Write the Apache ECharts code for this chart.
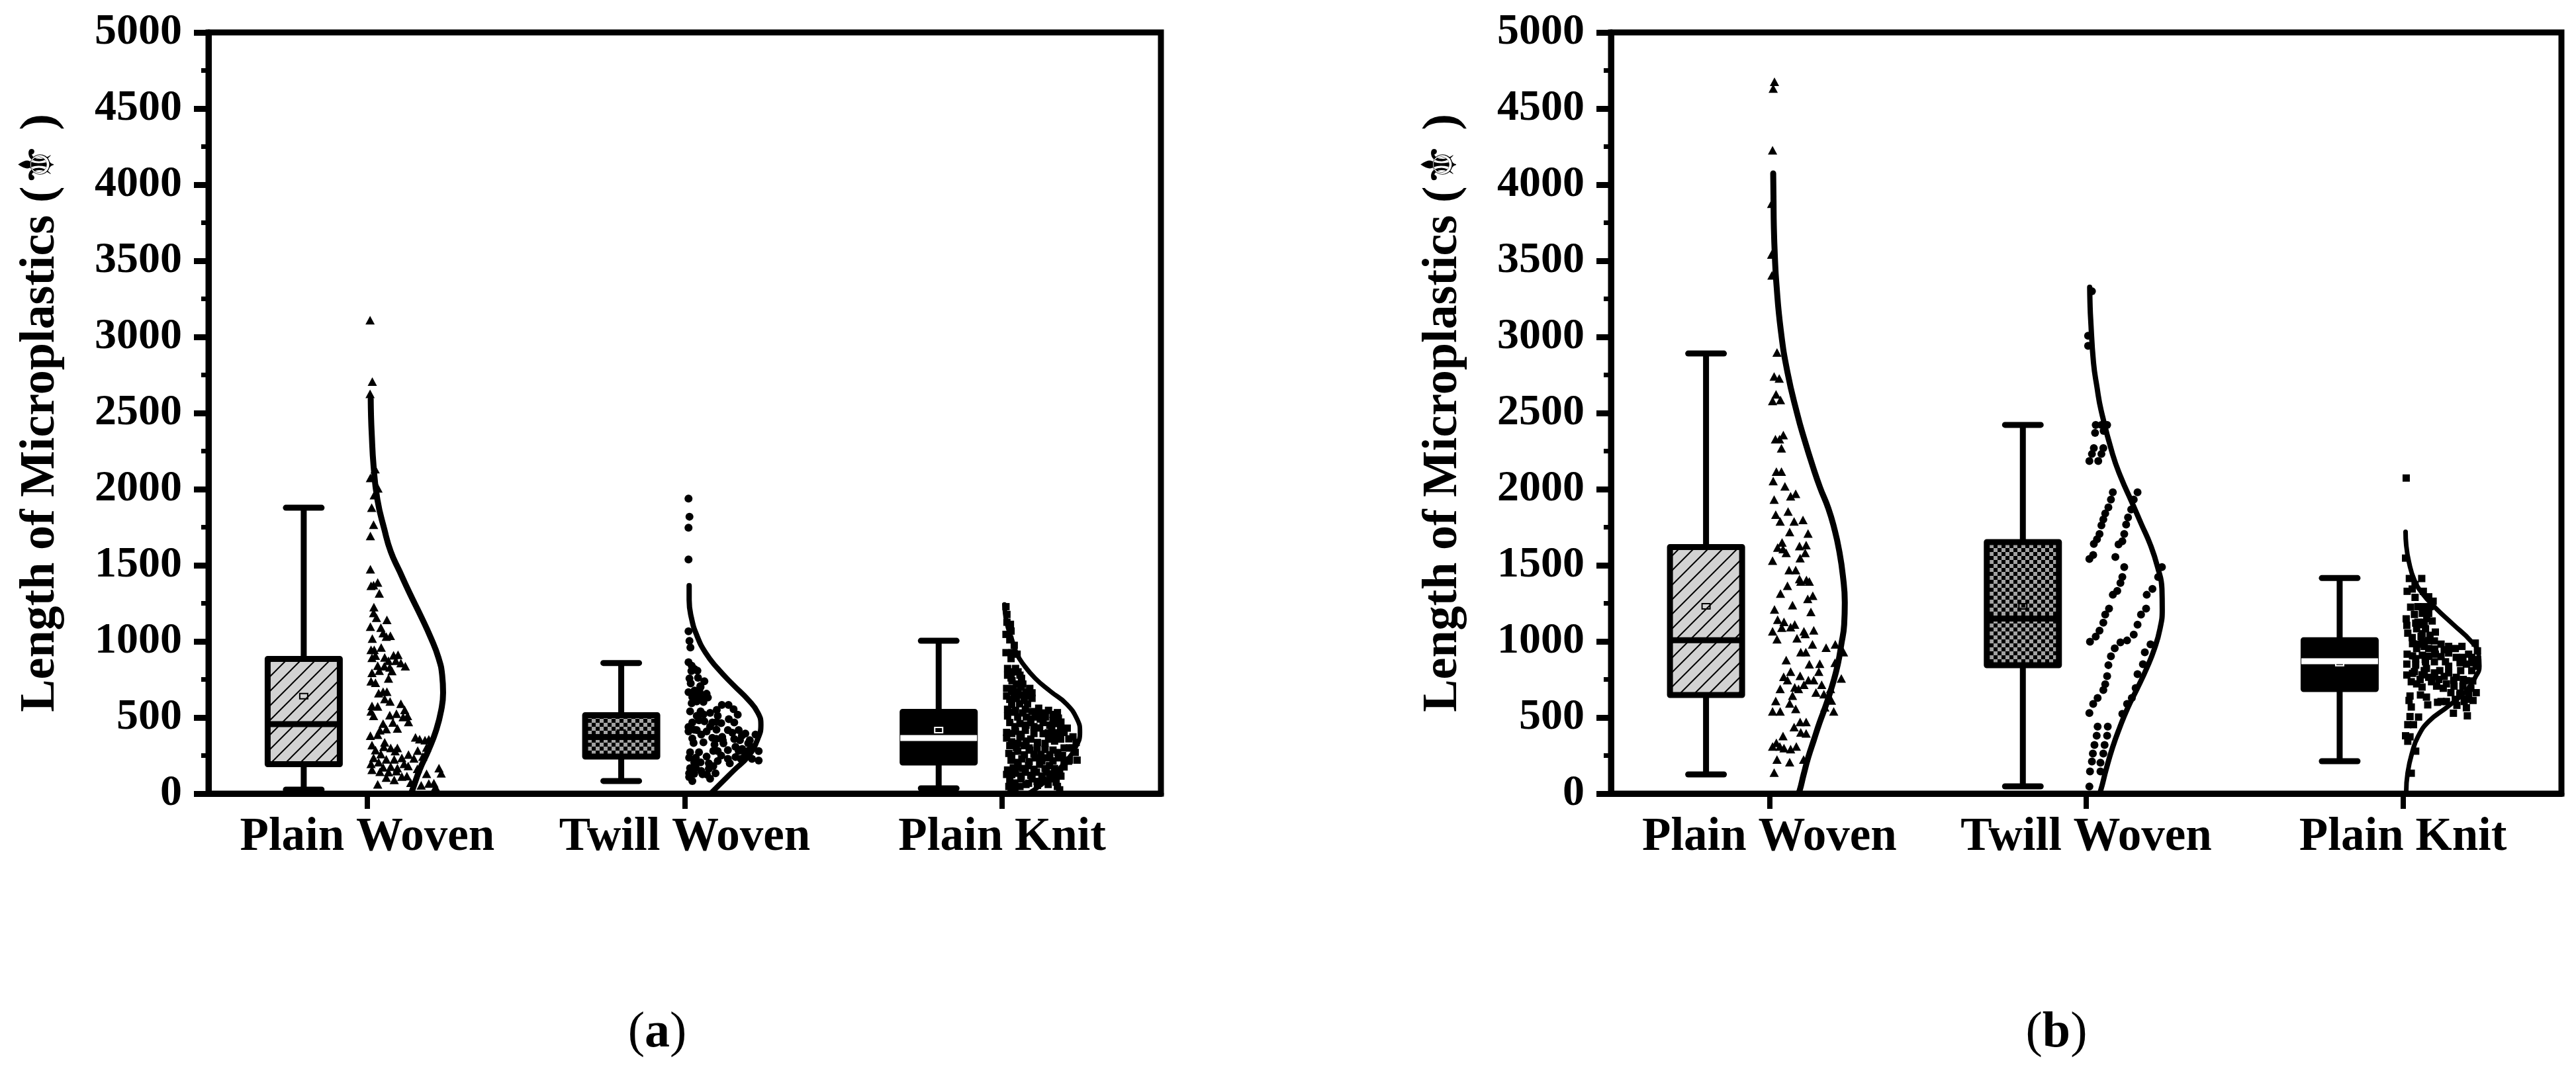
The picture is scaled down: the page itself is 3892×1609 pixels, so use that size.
<!DOCTYPE html>
<html>
<head>
<meta charset="utf-8">
<title>Length of Microplastics</title>
<script src="https://cdn.jsdelivr.net/npm/echarts@6/dist/echarts.min.js"></script>
<style>
html, body { margin: 0; padding: 0; background: #fff; }
#main { width: 3892px; height: 1609px; }
</style>
</head>
<body>
<div id="main"></div>
<script>
var categories = ['Plain Woven', 'Twill Woven', 'Plain Knit'];
var yTicks = [0, 5000, 500];

// box stats: x, whisker low, q1, median, q3, whisker high, mean
var boxesA = [
    [0.8, 26, 193, 457, 885, 1878, 640],
    [1.8, 83, 243, 372, 515, 858, 400],
    [2.8, 35, 204, 365, 537, 1004, 417]
];
var boxesB = [
    [0.8, 126, 648, 1008, 1620, 2891, 1230],
    [1.8, 48, 843, 1150, 1652, 2422, 1230],
    [2.8, 213, 687, 870, 1008, 1416, 858]
];

// normal curves next to the boxes
var curvePlainA = [[1.011,2591],[1.012,2480],[1.014,2372],[1.020,2152],[1.032,1932],[1.054,1735],[1.074,1590],[1.102,1460],[1.134,1315],[1.168,1170],[1.200,1025],[1.224,895],[1.236,779],[1.239,663],[1.233,547],[1.217,416],[1.193,286],[1.165,156],[1.140,11],[1.137,0]];
var curveTwillA = [[2.014,1366],[2.014,1272],[2.021,1156],[2.038,1040],[2.066,924],[2.104,822],[2.153,714],[2.202,612],[2.230,533],[2.240,453],[2.230,359],[2.202,250],[2.153,149],[2.090,18],[2.082,0]];
var curveKnitA = [[3.007,1242],[3.014,1126],[3.031,1010],[3.045,923],[3.066,851],[3.104,757],[3.153,670],[3.202,590],[3.236,489],[3.245,402],[3.230,300],[3.195,199],[3.146,97],[3.090,10],[3.080,0]];
var curvePlainB = [[1.012,4074],[1.013,3900],[1.014,3730],[1.017,3540],[1.022,3352],[1.036,3043],[1.057,2768],[1.088,2493],[1.110,2330],[1.137,2149],[1.160,2010],[1.186,1874],[1.205,1740],[1.220,1599],[1.232,1430],[1.238,1255],[1.236,1110],[1.227,980],[1.216,850],[1.200,722],[1.180,590],[1.158,464],[1.140,350],[1.123,241],[1.108,125],[1.095,17],[1.090,0]];
var curveTwillB = [[2.011,3326],[2.012,3220],[2.014,3118],[2.023,2831],[2.034,2670],[2.047,2518],[2.083,2231],[2.110,2075],[2.143,1919],[2.173,1775],[2.203,1632],[2.225,1490],[2.239,1345],[2.240,1210],[2.233,1084],[2.215,950],[2.191,824],[2.161,690],[2.131,563],[2.105,430],[2.083,302],[2.063,160],[2.045,16],[2.040,0]];
var curveKnitB = [[3.008,1720],[3.010,1634],[3.019,1518],[3.036,1402],[3.061,1315],[3.102,1221],[3.158,1112],[3.214,1003],[3.238,924],[3.241,837],[3.228,764],[3.200,677],[3.144,576],[3.081,474],[3.047,373],[3.029,271],[3.015,141],[3.010,10],[3.010,0]];

// raw measurements, read point by point
var pointsPlainA = [[1.009,3110],[1.016,2707],[1.009,2626],[1.025,2132],[1.010,2074],[1.034,2005],[1.022,1961],[1.014,1878],[1.020,1766],
    [1.010,1692],[1.010,1474],[1.012,1365],[1.020,1370],[1.033,1387],[1.038,1315],[1.021,1225],[1.020,1187],[1.029,1155],[1.062,1141],[1.010,1097],[1.043,1090],[1.050,1054],[1.060,1032],[1.073,1037],[1.016,1018],[1.012,945],[1.022,945],[1.044,960],[1.026,906],[1.015,892],[1.055,895],[1.067,873],[1.083,909],[1.097,912],[1.090,873],[1.106,858],[1.120,837],[1.033,840],[1.054,837],[1.071,829],[1.038,808],[1.078,805],[1.015,793],[1.012,738],[1.026,728],[1.067,757],[1.036,660],[1.050,670],[1.062,670],[1.055,622],[1.072,605],[1.015,576],[1.033,573],[1.012,540],[1.020,511],[1.106,590],[1.118,550],[1.071,515],[1.092,525],[1.113,503],[1.127,511],[1.130,471],[1.081,467],[1.050,460],[1.060,424],[1.040,416],[1.033,387],[1.095,428],[1.010,380],[1.152,370],[1.165,358],[1.182,351],[1.194,356],[1.015,318],[1.026,286],[1.055,337],[1.052,308],[1.074,300],[1.095,300],[1.088,279],[1.159,283],[1.187,303],[1.043,260],[1.060,225],[1.085,225],[1.020,235],[1.012,196],[1.036,206],[1.109,235],[1.130,257],[1.147,231],[1.175,243],[1.116,196],[1.129,182],[1.050,173],[1.015,156],[1.040,144],[1.074,177],[1.095,167],[1.067,141],[1.092,148],[1.226,167],[1.233,134],[1.158,163],[1.187,130],[1.060,105],[1.085,90],[1.109,112],[1.125,115],[1.137,72],[1.170,54],[1.194,66],[1.210,69],[1.215,43],[1.033,61]];
var pointsTwillA = [[2.012,1938],[2.015,1819],[2.012,1747],[2.012,1538],[2.012,1066],[2.015,1003],[2.018,960],[2.012,863],[2.022,840],[2.021,805],[2.040,808],[2.015,757],[2.019,724],[2.042,761],[2.062,738],[2.049,706],[2.012,666],[2.031,677],[2.047,666],[2.024,634],[2.069,656],[2.073,631],[2.022,593],[2.038,605],[2.059,602],[2.017,540],[2.038,511],[2.059,521],[2.117,583],[2.138,583],[2.101,550],[2.154,554],[2.104,511],[2.167,518],[2.024,467],[2.045,482],[2.062,475],[2.087,467],[2.115,463],[2.139,489],[2.156,467],[2.012,438],[2.012,409],[2.038,417],[2.052,388],[2.069,409],[2.136,417],[2.170,417],[2.024,362],[2.028,333],[2.059,337],[2.087,366],[2.118,373],[2.094,322],[2.122,330],[2.156,359],[2.191,395],[2.223,388],[2.174,351],[2.205,351],[2.160,308],[2.181,293],[2.212,308],[2.233,279],[2.104,279],[2.136,286],[2.017,272],[2.045,272],[2.014,236],[2.035,236],[2.069,243],[2.115,250],[2.136,228],[2.177,228],[2.212,228],[2.233,217],[2.076,199],[2.104,214],[2.142,199],[2.017,167],[2.035,170],[2.052,149],[2.076,163],[2.014,134],[2.097,134],[2.056,127],[2.014,109],[2.080,98],[2.024,83],
    [2.030,820],[2.050,700],[2.030,640],[2.050,630],[2.050,540],[2.080,530],[2.100,470],[2.030,420],[2.080,440],[2.100,420],[2.150,400],[2.180,380],[2.100,360],[2.200,330],[2.120,350],[2.090,280],[2.170,280],[2.200,280],[2.030,205],[2.050,205],[2.090,180],[2.030,130],[2.070,125],[2.160,240],[2.190,260]];
var pointsKnitA = [[3.012,1228],[3.015,1177],[3.015,1126],[3.026,1112],[3.012,1046],[3.028,1068],[3.024,1010],[3.038,974],[3.012,926],[3.031,926],[3.047,916],[3.028,887],
    [3.017,822],[3.042,822],[3.017,778],[3.056,778],[3.031,742],[3.061,757],[3.014,691],[3.035,691],[3.059,699],[3.087,691],[3.094,662],[3.014,641],[3.038,648],[3.066,648],[3.094,626],[3.024,619],[3.069,612],
    [3.017,554],[3.042,547],[3.073,554],[3.115,561],[3.094,539],[3.146,547],[3.174,532],[3.017,510],[3.049,503],[3.076,503],[3.108,503],[3.136,503],[3.177,496],[3.024,467],[3.056,460],[3.090,467],[3.129,467],[3.170,460],
    [3.014,402],[3.042,409],[3.073,416],[3.118,431],[3.156,431],[3.184,431],[3.223,373],[3.014,365],[3.056,373],[3.090,358],[3.129,394],[3.167,387],[3.195,402],[3.233,336],[3.024,315],[3.069,315],[3.111,336],[3.146,358],[3.184,358],[3.212,300],
    [3.021,264],[3.049,278],[3.087,286],[3.122,257],[3.160,286],[3.195,300],[3.230,271],[3.028,220],[3.062,228],[3.104,235],[3.143,235],[3.177,235],[3.212,220],[3.236,220],
    [3.017,155],[3.049,177],[3.083,184],[3.118,192],[3.149,184],[3.181,148],[3.209,213],[3.014,126],[3.042,134],[3.073,141],[3.108,141],[3.139,141],[3.167,112],
    [3.024,90],[3.059,97],[3.094,97],[3.129,90],[3.156,97],[3.021,47],[3.056,47],[3.083,68],[3.111,54],[3.174,47],[3.181,25],[3.028,32],
    [3.030,800],[3.050,800],[3.028,760],[3.045,720],[3.065,720],[3.030,670],[3.050,670],[3.075,670],[3.045,625],[3.085,640],[3.030,585],[3.055,590],[3.080,590],[3.105,530],[3.125,530],[3.160,520],[3.035,535],[3.065,530],[3.090,490],[3.120,490],[3.160,480],[3.185,470],[3.040,440],[3.075,450],[3.100,440],[3.150,450],[3.175,400],[3.205,430],[3.030,395],[3.060,390],[3.100,395],[3.145,400],[3.210,360],[3.030,340],[3.050,330],[3.075,345],[3.110,300],[3.135,330],[3.165,345],[3.045,300],[3.085,300],[3.135,290],[3.175,270],[3.220,300],[3.030,250],[3.070,255],[3.100,260],[3.150,255],[3.190,250],[3.050,205],[3.085,210],[3.125,215],[3.160,215],[3.195,210],[3.035,170],[3.065,165],[3.100,160],[3.135,165],[3.165,165],[3.195,175],[3.030,125],[3.060,115],[3.090,120],[3.125,115],[3.150,130],[3.185,115],[3.040,70],[3.075,60],[3.110,80],[3.145,60],[3.170,75],[3.040,25]];
var pointsPlainB = [[1.016,4676],[1.012,4631],[1.010,4226],[1.007,3875],[1.007,3541],[1.008,3404],[1.024,2898],[1.015,2740],[1.031,2727],[1.021,2623],[1.010,2579],[1.035,2586],[1.019,2328],[1.032,2328],[1.044,2355],[1.038,2269],[1.012,2053],[1.022,2115],[1.038,2115],[1.049,2018],[1.067,1953],[1.083,1970],[1.015,1932],[1.020,1833],[1.034,1788],[1.059,1853],[1.078,1788],[1.106,1798],[1.064,1719],[1.122,1709],[1.040,1650],[1.026,1616],[1.043,1606],[1.053,1582],[1.095,1626],[1.116,1633],[1.010,1530],[1.113,1582],[1.097,1547],[1.062,1468],[1.083,1468],[1.095,1410],[1.117,1403],[1.099,1393],[1.126,1393],[1.057,1365],[1.035,1314],[1.073,1238],[1.137,1300],[1.121,1279],[1.131,1193],[1.016,1210],[1.026,1142],[1.046,1128],[1.010,1066],[1.039,1090],[1.067,1093],[1.080,1111],[1.109,1066],[1.140,1073],[1.024,1014],[1.087,1021],[1.113,1049],[1.136,980],[1.179,959],[1.208,980],[1.234,929],[1.099,929],[1.115,929],[1.053,877],[1.126,850],[1.159,853],[1.207,860],[1.156,801],[1.067,801],[1.045,767],[1.097,774],[1.227,757],[1.057,746],[1.123,746],[1.140,746],[1.109,715],[1.165,715],[1.080,698],[1.034,688],[1.092,688],[1.147,664],[1.172,653],[1.193,688],[1.073,643],[1.020,609],[1.064,592],[1.196,612],[1.083,557],[1.010,540],[1.034,540],[1.203,540],[1.175,567],[1.097,471],[1.116,471],[1.078,437],[1.099,402],[1.116,396],[1.043,378],[1.022,334],[1.010,310],[1.033,310],[1.046,299],[1.067,292],[1.085,310],[1.024,224],[1.064,206],[1.108,224],[1.015,138]];
var pointsTwillB = [[2.018,3300],[2.006,3008],[2.006,2941],[2.030,2422],[2.066,2422],[2.048,2422],[2.028,2370],[2.055,2383],[2.024,2270],[2.054,2270],[2.018,2231],[2.048,2231],[2.010,2185],[2.038,2185],[2.084,1979],[2.078,1932],[2.070,1880],[2.060,1840],[2.054,1801],[2.048,1762],[2.042,1705],[2.034,1671],[2.024,1640],[2.022,1567],[2.010,1541],[2.162,1979],[2.150,1932],[2.142,1866],[2.132,1814],[2.126,1767],[2.120,1705],[2.114,1658],[2.102,1637],[2.092,1554],[2.120,1488],[2.114,1423],[2.108,1384],[2.098,1332],[2.084,1306],[2.239,1488],[2.227,1423],[2.209,1345],[2.191,1306],[2.072,1215],[2.060,1176],[2.054,1123],[2.042,1071],[2.030,1032],[2.012,998],[2.189,1215],[2.173,1176],[2.162,1110],[2.150,1045],[2.129,1006],[2.108,993],[2.090,954],[2.078,902],[2.070,844],[2.203,980],[2.185,928],[2.179,850],[2.162,785],[2.156,693],[2.144,628],[2.129,589],[2.114,524],[2.066,772],[2.060,719],[2.054,680],[2.036,628],[2.022,589],[2.010,529],[2.036,440],[2.068,440],[2.033,380],[2.066,380],[2.026,320],[2.058,320],[2.021,263],[2.054,263],[2.018,211],[2.045,203],[2.012,146],[2.045,146],[2.010,47]];
var pointsKnitB = [[3.010,2073],[3.008,1547],[3.020,1413],[3.059,1413],[3.038,1373],[3.013,1329],[3.029,1344],[3.038,1289],[3.064,1329],[3.081,1293],[3.095,1264],[3.024,1225],[3.047,1228],[3.064,1228],[3.085,1228],[3.036,1177],[3.061,1184],[3.081,1184],[3.010,1148],[3.092,1134],[3.012,1105],[3.047,1126],[3.067,1126],[3.015,1054],[3.043,1083],[3.071,1083],[3.102,1061],[3.029,1025],[3.057,1032],[3.085,1040],[3.047,982],[3.099,1003],[3.043,953],[3.081,953],[3.067,967],[3.120,982],[3.144,967],[3.165,953],[3.186,967],[3.228,989],[3.013,916],[3.040,887],[3.061,909],[3.081,902],[3.102,916],[3.144,924],[3.168,895],[3.207,916],[3.235,938],[3.012,851],[3.071,866],[3.099,866],[3.134,866],[3.189,895],[3.217,895],[3.235,880],[3.040,844],[3.074,822],[3.116,808],[3.144,837],[3.200,851],[3.231,837],[3.012,779],[3.036,801],[3.067,808],[3.099,793],[3.144,793],[3.182,808],[3.217,808],[3.026,735],[3.054,750],[3.081,764],[3.113,750],[3.137,721],[3.168,764],[3.200,742],[3.043,721],[3.106,706],[3.127,692],[3.161,706],[3.189,706],[3.214,692],[3.022,641],[3.055,648],[3.074,634],[3.019,612],[3.151,663],[3.179,648],[3.207,648],[3.231,663],[3.026,569],[3.078,583],[3.109,600],[3.137,605],[3.165,619],[3.193,605],[3.221,612],[3.159,528],[3.200,564],[3.203,511],[3.049,503],[3.022,506],[3.015,453],[3.033,453],[3.008,380],[3.022,373],[3.015,344],[3.040,279],[3.026,134],
    [3.050,1110],[3.075,1150],[3.040,1120],[3.060,1050],[3.080,1005],[3.030,985],[3.060,1000],[3.100,950],[3.130,945],[3.030,905],[3.070,880],[3.120,900],[3.180,860],[3.220,860],[3.030,790],[3.060,780],[3.100,770],[3.160,745],[3.190,750],[3.130,770],[3.090,735],[3.220,740],[3.060,700],[3.180,660],[3.200,620],[3.120,605],[3.170,580]];

var fontSerif = '"Liberation Serif", "DejaVu Sans", serif';
var yName = 'Length of Microplastics (\u269C )';

function makeHatch() {
    var c = document.createElement('canvas');
    c.width = 22;
    c.height = 22;
    var g = c.getContext('2d');
    g.fillStyle = '#d2d2d2';
    g.fillRect(0, 0, 22, 22);
    g.strokeStyle = '#000';
    g.lineWidth = 2;
    g.beginPath();
    g.moveTo(-4, 26);
    g.lineTo(26, -4);
    g.moveTo(-4, 4);
    g.lineTo(4, -4);
    g.moveTo(18, 26);
    g.lineTo(26, 18);
    g.stroke();
    return { image: c, repeat: 'repeat' };
}

function makeChecker() {
    var c = document.createElement('canvas');
    c.width = 12;
    c.height = 12;
    var g = c.getContext('2d');
    g.fillStyle = '#000';
    g.fillRect(0, 0, 12, 12);
    g.fillStyle = '#a2a2a2';
    g.fillRect(0, 0, 6, 6);
    g.fillRect(6, 6, 6, 6);
    return { image: c, repeat: 'repeat' };
}

var boxFills = [makeHatch(), makeChecker(), '#000'];
var innerColors = ['#000', '#000', '#fff'];

function renderBox(params, api) {
    var x = api.value(0);
    var low = api.coord([x, api.value(1)]);
    var q1 = api.coord([x, api.value(2)]);
    var med = api.coord([x, api.value(3)]);
    var q3 = api.coord([x, api.value(4)]);
    var high = api.coord([x, api.value(5)]);
    var mean = api.coord([x, api.value(6)]);
    var i = params.dataIndex;
    var black = { stroke: '#000', lineWidth: 9, fill: 'none' };
    var capped = { stroke: '#000', lineWidth: 9, lineCap: 'round', fill: 'none' };
    return {
        type: 'group',
        children: [
            { type: 'line', shape: { x1: low[0], y1: low[1], x2: high[0], y2: high[1] }, style: black },
            { type: 'line', shape: { x1: low[0] - 27, y1: low[1], x2: low[0] + 27, y2: low[1] }, style: capped },
            { type: 'line', shape: { x1: high[0] - 27, y1: high[1], x2: high[0] + 27, y2: high[1] }, style: capped },
            {
                type: 'rect',
                shape: { x: q3[0] - 54.5, y: q3[1], width: 109, height: q1[1] - q3[1] },
                style: { fill: boxFills[i], stroke: '#000', lineWidth: 9, lineJoin: 'round' }
            },
            { type: 'line', shape: { x1: med[0] - 58, y1: med[1], x2: med[0] + 58, y2: med[1] }, style: { stroke: innerColors[i], lineWidth: 9, fill: 'none' } },
            {
                type: 'rect',
                shape: { x: mean[0] - 6, y: mean[1] - 4, width: 12, height: 8 },
                style: { fill: 'none', stroke: innerColors[i], lineWidth: 2 }
            }
        ]
    };
}

function panelAxes(gridIndex) {
    var x = [
        {
            type: 'category',
            gridIndex: gridIndex,
            data: categories,
            axisLine: { lineStyle: { color: '#000', width: 9 } },
            axisTick: { show: true, alignWithLabel: true, length: 23, lineStyle: { color: '#000', width: 8 } },
            axisLabel: { color: '#000', fontFamily: fontSerif, fontWeight: 'bold', fontSize: 71, margin: 31, interval: 0 }
        },
        { type: 'value', gridIndex: gridIndex, min: 0.5, max: 3.5, show: false }
    ];
    var y = {
        type: 'value',
        gridIndex: gridIndex,
        min: yTicks[0],
        max: yTicks[1],
        interval: yTicks[2],
        name: yName,
        nameLocation: 'middle',
        nameGap: 216,
        nameRotate: 90,
        nameTextStyle: { color: '#000', fontFamily: fontSerif, fontWeight: 'bold', fontSize: 74 },
        splitLine: { show: false },
        axisLine: { show: true, lineStyle: { color: '#000', width: 9 } },
        axisTick: { show: true, length: 22, lineStyle: { color: '#000', width: 9 } },
        minorTick: { show: true, splitNumber: 2, length: 11, lineStyle: { color: '#000', width: 7 } },
        axisLabel: {
            color: '#000',
            fontFamily: fontSerif,
            fontWeight: 'bold',
            fontSize: 66,
            margin: 40,
            padding: [0, 0, 12, 0],
            formatter: function(v) { return String(v); }
        }
    };
    return { x: x, y: y };
}

function panelSeries(xIndex, yIndex, boxes, points, curves) {
    var symbols = ['triangle', 'circle', 'rect'];
    var sizes = [[14, 13], 12, 11];
    var widths = [9, 8, 7];
    var list = [{
        type: 'custom',
        xAxisIndex: xIndex,
        yAxisIndex: yIndex,
        renderItem: renderBox,
        data: boxes,
        silent: true,
        clip: false
    }];
    points.forEach(function(pts, i) {
        list.push({
            type: 'scatter',
            xAxisIndex: xIndex,
            yAxisIndex: yIndex,
            symbol: symbols[i],
            symbolSize: sizes[i],
            itemStyle: { color: '#000', opacity: 1 },
            data: pts,
            silent: true
        });
    });
    curves.forEach(function(pts, i) {
        list.push({
            type: 'line',
            xAxisIndex: xIndex,
            yAxisIndex: yIndex,
            showSymbol: false,
            smooth: 0.5,
            lineStyle: { color: '#000', width: widths[i], cap: 'round' },
            data: pts,
            silent: true
        });
    });
    return list;
}

var axesA = panelAxes(0);
var axesB = panelAxes(1);

function captionText(x, letter) {
    return {
        type: 'text',
        x: x,
        y: 1561,
        style: {
            text: '{n|(}{b|' + letter + '}{n|)}',
            align: 'center',
            verticalAlign: 'middle',
            rich: {
                n: { fontFamily: fontSerif, fontSize: 76, fill: '#000' },
                b: { fontFamily: fontSerif, fontSize: 76, fontWeight: 'bold', fill: '#000' }
            }
        }
    };
}

var myChart = echarts.init(document.getElementById('main'), null, { renderer: 'canvas' });

var option = {
    animation: false,
    backgroundColor: '#fff',
    grid: [
        { left: 315, top: 49, width: 1439, height: 1150, show: true, borderColor: '#000', borderWidth: 9 },
        { left: 2434, top: 49, width: 1436, height: 1150, show: true, borderColor: '#000', borderWidth: 9 }
    ],
    xAxis: axesA.x.concat(axesB.x),
    yAxis: [axesA.y, axesB.y],
    series: panelSeries(1, 0, boxesA, [pointsPlainA, pointsTwillA, pointsKnitA], [curvePlainA, curveTwillA, curveKnitA])
        .concat(panelSeries(3, 1, boxesB, [pointsPlainB, pointsTwillB, pointsKnitB], [curvePlainB, curveTwillB, curveKnitB])),
    graphic: [captionText(993, 'a'), captionText(3107, 'b')]
};

myChart.setOption(option);
</script>
</body>
</html>
